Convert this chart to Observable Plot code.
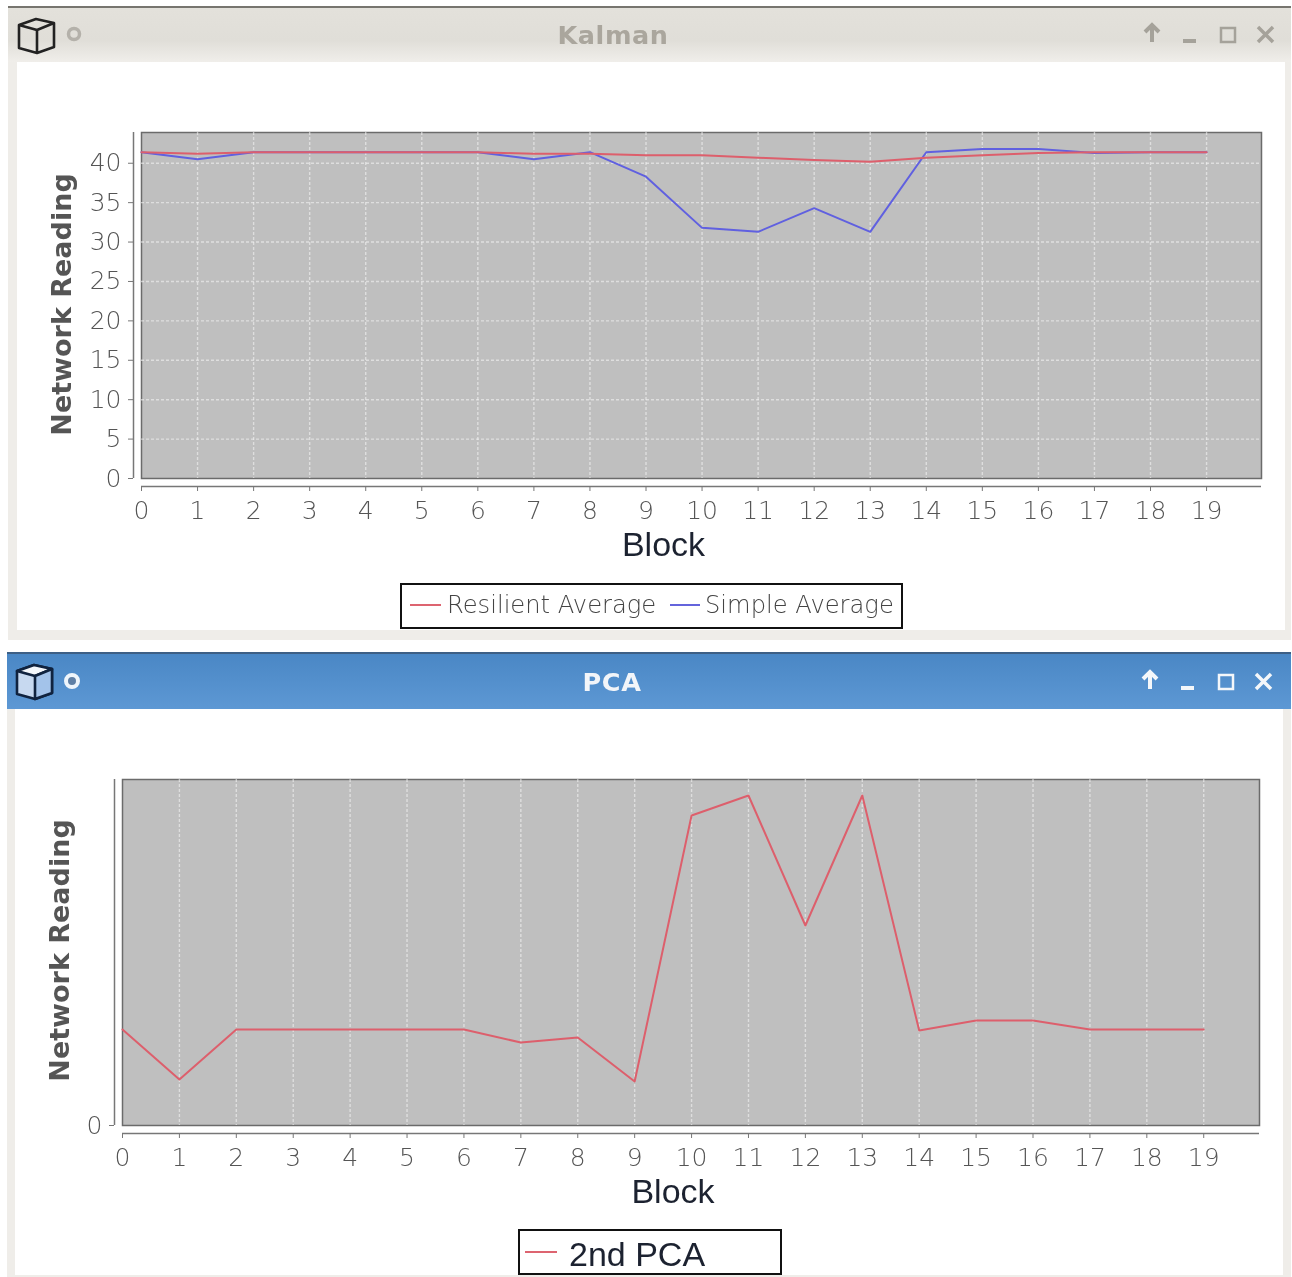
<!DOCTYPE html>
<html>
<head>
<meta charset="utf-8">
<script src="https://cdn.jsdelivr.net/npm/d3@7"></script>
<script src="https://cdn.jsdelivr.net/npm/@observablehq/plot@0.6"></script>
<style>
html,body{margin:0;padding:0;background:#fff}
#page{position:relative;width:1292px;height:1277px;overflow:hidden;background:#fff;filter:blur(.5px)}
.win{position:absolute;box-sizing:border-box}
.bar{position:absolute;left:0;right:0;top:0}
.title{position:absolute;font:bold 25.5px "DejaVu Sans",sans-serif;letter-spacing:.6px;transform:translateX(-50%)}
.abs{position:absolute}
.plot{position:absolute;left:0}
.plot svg{display:block;max-width:none;background:transparent}
.legend{position:absolute;box-sizing:border-box;border:2px solid #111;background:#fff}
.legend span{position:absolute;white-space:nowrap}
.legend i{position:absolute;height:2px;display:block}
</style>
</head>
<body>
<div id="page">
  <div class="win" style="left:8px;top:6px;width:1283px;height:634px;background:#efede9;border-top:2px solid #77756f">
    <div class="bar" style="height:54px;background:linear-gradient(#e3e1db,#e0ded8 60%,#f0eeea)"></div>
    <div class="abs" style="left:9px;top:54px;width:1268px;height:568px;background:#fff"></div>
  </div>
  <div class="title" style="left:613px;top:20px;color:#aaa69d">Kalman</div>
  <svg class="abs" style="left:14px;top:14px" width="46" height="42" viewBox="0 0 46 42" fill="none" stroke="#222" stroke-width="2.6" stroke-linejoin="round"><path d="M5 11 L22 5 L40 9 L40 33 L23 39 L5 34 Z M5 11 L23 16 L40 9 M23 16 L23 39"/></svg>
  <svg class="abs" style="left:64px;top:24px" width="20" height="20"><circle cx="10" cy="10" r="5.5" fill="none" stroke="#b4b1aa" stroke-width="3.5"/></svg>
  <svg class="abs" style="left:1138px;top:20px" width="140" height="30" fill="none" stroke="#a5a29a" stroke-width="3"><path d="M14 22 V6 M7 12 L14 5 L21 12" stroke-width="4"/><path d="M45 21 H58" stroke-width="4"/><path d="M83 8 H97 V22 H83 Z" stroke-width="2.5"/><path d="M120 7 L135 22 M135 7 L120 22" stroke-width="3.5"/></svg>

  <div class="win" style="left:7px;top:652px;width:1284px;height:625px;background:#efede9">
    <div class="bar" style="height:57px;background:linear-gradient(#4a87c5,#5d98d4);border-top:2px solid #3d5f85;box-sizing:border-box"></div>
    <div class="abs" style="left:8px;top:57px;width:1268px;height:566px;background:#fff"></div>
  </div>
  <div class="title" style="left:612px;top:667px;color:#f2f5f9">PCA</div>
  <svg class="abs" style="left:12px;top:660px" width="46" height="42" viewBox="0 0 46 42" stroke="#10233f" stroke-width="2.6" stroke-linejoin="round"><path d="M5 11 L22 5 L40 9 L40 33 L23 39 L5 34 Z" fill="#c7d9f0"/><path d="M5 11 L23 16 L40 9 L22 5 Z" fill="#f4f7fb"/><path d="M23 16 L40 9 L40 33 L23 39 Z" fill="#a3c3ea"/></svg>
  <svg class="abs" style="left:62px;top:671px" width="20" height="20"><circle cx="10" cy="10" r="6" fill="#5f7fa5" stroke="#eef5fb" stroke-width="4"/></svg>
  <svg class="abs" style="left:1136px;top:667px" width="140" height="30" fill="none" stroke="#f4f7fa" stroke-width="3"><path d="M14 22 V6 M7 12 L14 5 L21 12" stroke-width="4"/><path d="M45 21 H58" stroke-width="4"/><path d="M83 8 H97 V22 H83 Z" stroke-width="2.5"/><path d="M120 7 L135 22 M135 7 L120 22" stroke-width="3.5"/></svg>

  <div id="p1" class="plot" style="top:62px"></div>
  <div id="p2" class="plot" style="top:710px"></div>

  <div class="legend" style="left:400px;top:583px;width:503px;height:46px">
    <i style="left:8px;top:19px;width:31px;background:#dd6470"></i>
    <span style="left:45px;top:6px;font:24.2px 'DejaVu Sans',sans-serif;font-weight:200;color:#444">Resilient Average</span>
    <i style="left:268px;top:19px;width:30px;background:#6464dc"></i>
    <span style="left:303px;top:6px;font:24.2px 'DejaVu Sans',sans-serif;font-weight:200;color:#444">Simple Average</span>
  </div>
  <div class="legend" style="left:518px;top:1229px;width:264px;height:46px">
    <i style="left:5px;top:20px;width:32px;background:#dd6470"></i>
    <span style="left:49px;top:4px;font:34px 'Liberation Sans',sans-serif;color:#1c2230">2nd PCA</span>
  </div>
</div>
<script>
const blocks = [0,1,2,3,4,5,6,7,8,9,10,11,12,13,14,15,16,17,18,19];
const resilient = [41.4,41.2,41.4,41.4,41.4,41.4,41.4,41.2,41.2,41.0,41.0,40.7,40.4,40.2,40.7,41.0,41.3,41.4,41.4,41.4];
const simple =    [41.4,40.5,41.4,41.4,41.4,41.4,41.4,40.5,41.4,38.3,31.8,31.3,34.3,31.3,41.4,41.8,41.8,41.3,41.4,41.4];
const pca =       [96,46,96,96,96,96,96,83,88,44,310,330,200,330,95,105,105,96,96,96];
const yTicksTop = [0,5,10,15,20,25,30,35,40];
const yTicksBottom = [0];
const xDomainEnd = 19.98;
const redColor = "#dd5f6c", blueColor = "#6060e0";

const tick = {fontSize:25, fill:"#555", fontFamily:"DejaVu Sans", fontWeight:200};

function panel({marginLeft, marginRight, marginTop, marginBottom, yDomain, yTicks, hGrid, series, xLabelDx, yLabelDx, yLabelDy}) {
  return Plot.plot({
    width: 1292, height: 520,
    marginLeft, marginRight, marginTop, marginBottom,
    style: {background:"transparent", overflow:"visible"},
    x: {domain:[0,xDomainEnd]},
    y: {domain:yDomain},
    marks: [
      Plot.frame({fill:"#bfbfbf", stroke:"#6b6b6b", strokeWidth:1.5}),
      ...(hGrid ? [Plot.gridY(yTicks.filter(d=>d>0),{stroke:"#f4f4f4", strokeOpacity:.6, strokeWidth:1.4, strokeDasharray:"3 2"})] : []),
      Plot.gridX(blocks.filter(d=>d>0),{stroke:"#f4f4f4", strokeOpacity:.6, strokeWidth:1.4, strokeDasharray:"3 2"}),
      ...series.map(s => Plot.line(blocks,{x:d=>d, y:d=>s.values[d], stroke:s.color, strokeWidth:2})),
      Plot.ruleY([yDomain[0]],{dy:8, stroke:"#777", strokeWidth:1.5}),
      Plot.ruleX([0],{dx:-8, stroke:"#777", strokeWidth:1.5}),
      Plot.axisX(blocks,{dy:8, tickSize:5, tickPadding:10, tickFormat:d=>String(d), label:null, ...tick, stroke:"#777"}),
      Plot.axisY(yTicks,{dx:-8, tickSize:5, tickPadding:7, tickFormat:d=>String(d), label:null, ...tick, stroke:"#777"}),
      Plot.text(["Block"],{frameAnchor:"bottom", dx:xLabelDx, dy:77, fontFamily:"Liberation Sans", fontSize:34, fill:"#1c2230"}),
      Plot.text(["Network Reading"],{frameAnchor:"left", textAnchor:"middle", rotate:-90, dx:yLabelDx, dy:yLabelDy, fontFamily:"DejaVu Sans", fontWeight:"bold", fontSize:27, fill:"#555"})
    ]
  });
}

document.getElementById("p1").append(panel({
  marginLeft:141, marginRight:31, marginTop:70, marginBottom:104,
  yDomain:[0,43.9], yTicks:yTicksTop, hGrid:true,
  series:[{values:simple,color:blueColor},{values:resilient,color:redColor}],
  xLabelDx:-38, yLabelDx:-79, yLabelDy:-1
}));
document.getElementById("p2").append(panel({
  marginLeft:122, marginRight:33, marginTop:69, marginBottom:105,
  yDomain:[0,346], yTicks:yTicksBottom, hGrid:false,
  series:[{values:pca,color:redColor}],
  xLabelDx:-18, yLabelDx:-62, yLabelDy:-2
}));
</script>
</body>
</html>
